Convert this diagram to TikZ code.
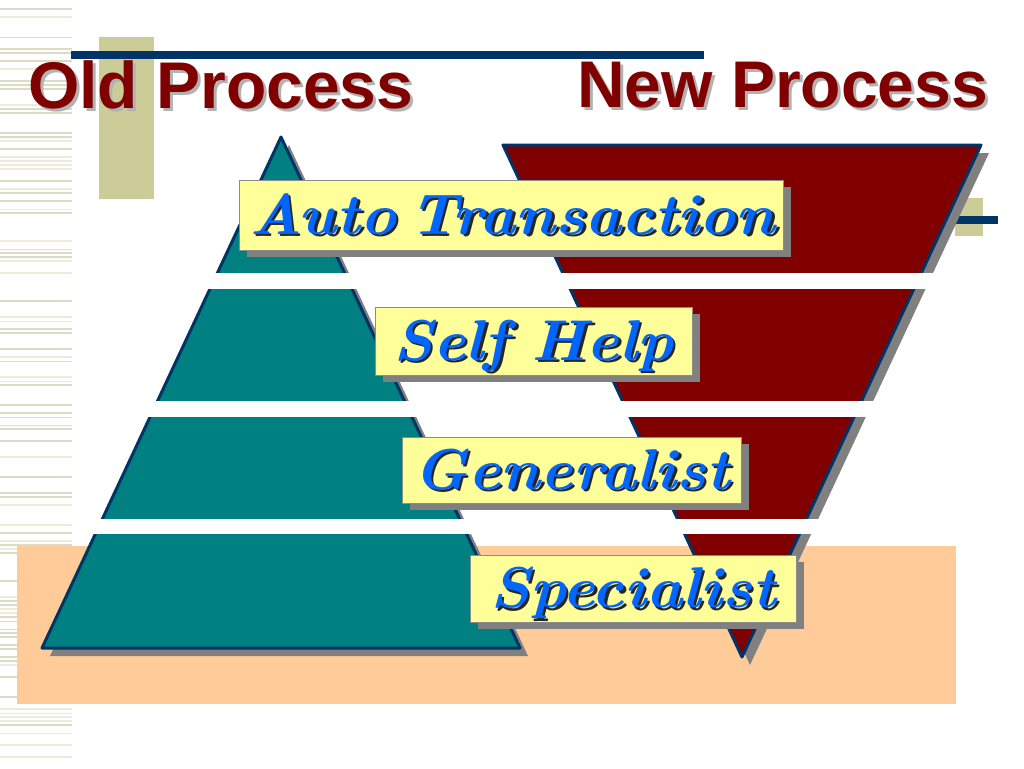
\documentclass[tikz,border=0pt]{standalone}
\usepackage{fontspec}
\newfontfamily\titlefont{Liberation Sans}
\definecolor{navy}{HTML}{003366}
\definecolor{tealfill}{HTML}{008080}
\definecolor{maroonfill}{HTML}{800000}
\definecolor{peach}{HTML}{FFCC99}
\definecolor{khaki}{HTML}{CCCC99}
\definecolor{stripeA}{HTML}{DCDCC4}
\definecolor{stripeB}{HTML}{ECECDC}
\definecolor{lblue}{HTML}{0066FF}
\definecolor{boxyellow}{HTML}{FFFF99}
\definecolor{shadowgray}{HTML}{808080}
\newcommand\lbltxt[1]{\scalebox{1.065}[1]{#1}}
\tikzset{
  outlined/.style={draw=navy, line width=3pt, line join=round},
  shadowshape/.style={fill=shadowgray},
  labelbox/.style={draw=black!45, line width=0.8pt, fill=boxyellow, inner sep=0pt},
  boxshadow/.style={fill=shadowgray, inner sep=0pt},
  lbltext/.style={text=lblue, font=\fontsize{57.5}{57.5}\selectfont\bfseries\itshape, inner sep=0pt, anchor=base},
  lblshadow/.style={lbltext, text=black!85},
  titletext/.style={text=maroonfill, font=\titlefont\fontsize{66}{66}\selectfont\bfseries, inner sep=0pt, anchor=base west},
  titleshadow/.style={titletext, text=black!30},
}
\begin{document}
\begin{tikzpicture}[x=1pt,y=-1pt]
\useasboundingbox[fill=white] (0,0) rectangle (1024,768);
% left stripes
\pgfmathsetseed{11}
\foreach \i in {0,...,191} {
  \pgfmathsetmacro\r{rnd}
  \pgfmathsetmacro\c{rnd}
  \pgfmathsetmacro\w{0.8+1.8*rnd}
  \ifdim\r pt<0.42pt
    \ifdim\c pt<0.6pt
      \draw[stripeA, line width=\w pt] (0,\i*4+1) -- (72,\i*4+1);
    \else
      \draw[stripeB, line width=\w pt] (0,\i*4+1) -- (72,\i*4+1);
    \fi
  \fi
}
% decorative khaki and blue bars
\fill[khaki] (99,37) rectangle (154,199);
\draw[navy, line width=7pt] (71,55) -- (704,55);
\fill[khaki] (955,198) rectangle (983,236);
\draw[navy, line width=8pt] (940,219.5) -- (998,219.5);
% titles
\node[titleshadow] (oldS) at (31,111) {Old Process};
\node[titletext] (old) at (28,108) {Old Process};
\node[titleshadow] (newS) at (580,110) {New Process};
\node[titletext] (new) at (577,107) {New Process};
% peach band
\fill[peach] (17,546) rectangle (956,704);
% pyramid (old)
\fill[shadowshape] (289,145) -- (528,656) -- (50,656) -- cycle;
\filldraw[outlined, fill=tealfill] (281,137) -- (520,648) -- (42,648) -- cycle;
% inverted pyramid (new)
\fill[shadowshape] (511,153) -- (989,153) -- (750,665) -- cycle;
\filldraw[outlined, fill=maroonfill] (503,145) -- (981,145) -- (742,657) -- cycle;
% white gaps
\fill[white] (90,273) rectangle (1005,289);
\fill[white] (90,401) rectangle (1005,417);
\fill[white] (90,519) rectangle (1005,534);
% label boxes
\node[boxshadow, minimum width=544pt, minimum height=70pt] (s1) at (519,222) {};
\node[labelbox, minimum width=544pt, minimum height=70pt] (b1) at (511,215) {};
\node[lblshadow] (t1s) at (515,236.5) {\lbltxt{Auto\hspace{12pt}Transaction}};
\node[lbltext] (t1) at (512.5,234) {\lbltxt{Auto\hspace{12pt}Transaction}};
\node[boxshadow, minimum width=317pt, minimum height=68pt] (s2) at (541.5,348) {};
\node[labelbox, minimum width=317pt, minimum height=68pt] (b2) at (533.5,341) {};
\node[lblshadow] (t2s) at (536,362.5) {\lbltxt{Self\hspace{22pt}Help}};
\node[lbltext] (t2) at (533.5,360) {\lbltxt{Self\hspace{22pt}Help}};
\node[boxshadow, minimum width=339pt, minimum height=66pt] (s3) at (579.5,477) {};
\node[labelbox, minimum width=339pt, minimum height=66pt] (b3) at (571.5,470) {};
\node[lblshadow] (t3s) at (574,491.5) {\lbltxt{Generalist}};
\node[lbltext] (t3) at (571.5,489) {\lbltxt{Generalist}};
\node[boxshadow, minimum width=326pt, minimum height=67pt] (s4) at (641,595.5) {};
\node[labelbox, minimum width=326pt, minimum height=67pt] (b4) at (633,588.5) {};
\node[lblshadow] (t4s) at (635.5,610) {\lbltxt{Specialist}};
\node[lbltext] (t4) at (633,607.5) {\lbltxt{Specialist}};
\end{tikzpicture}
\end{document}
